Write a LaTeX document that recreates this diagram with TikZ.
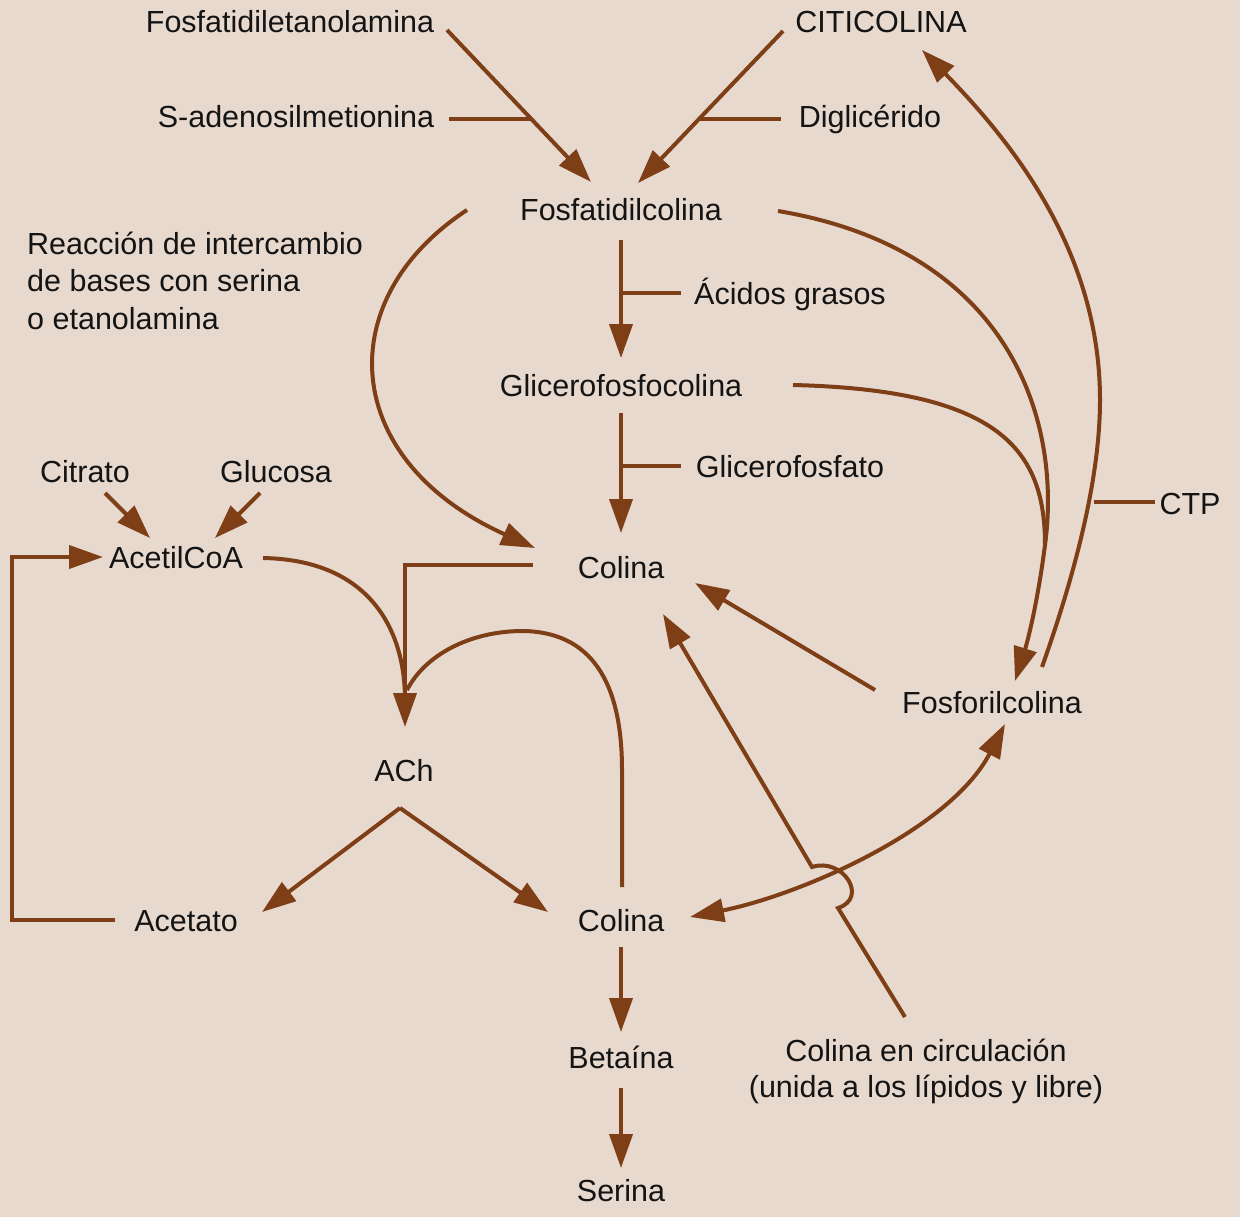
\documentclass[tikz,border=0pt]{standalone}
\usepackage{fontspec}
\setmainfont{Liberation Sans}
\usetikzlibrary{arrows.meta}
\definecolor{bg}{HTML}{E8D9CE}
\definecolor{ln}{HTML}{7E3E16}
\begin{document}
\begin{tikzpicture}[x=1pt,y=-1pt,
  lbl/.style={font=\fontsize{30.5}{37.5}\selectfont, inner sep=0pt, anchor=base, text=black!92},
  cn/.style={draw=ln, line width=4pt, line join=miter},
  tipp/.tip={Triangle[length=34pt,width=23pt]},
  ar/.style={cn, -tipp},
  dar/.style={cn, tipp-tipp}]
\fill[bg] (0,0) rectangle (1240,1217);
\useasboundingbox (0,0) rectangle (1240,1217);

% nodes
\node[lbl] (fe)   at (290,33)  {Fosfatidiletanolamina};
\node[lbl] (sam)  at (296,128) {S-adenosilmetionina};
\node[lbl] (cit)  at (881,33)  {CITICOLINA};
\node[lbl] (dig)  at (870,128) {Diglicérido};
\node[lbl] (fc)   at (621,221) {Fosfatidilcolina};
\node[lbl] (ag)   at (790,304) {Ácidos grasos};
\node[lbl] (gfc)  at (621,396) {Glicerofosfocolina};
\node[lbl] (gf)   at (790,477) {Glicerofosfato};
\node[lbl] (col1) at (621,578) {Colina};
\node[lbl, anchor=base west, align=left] (reac) at (27,329) {Reacción de intercambio\\de bases con serina\\o etanolamina};
\node[lbl] (fosf) at (992,713) {Fosforilcolina};
\node[lbl] (ctp)  at (1190,514) {CTP};
\node[lbl] (acoa) at (176,568) {AcetilCoA};
\node[lbl] (citr) at (85,482)  {Citrato};
\node[lbl] (gluc) at (276,482) {Glucosa};
\node[lbl] (ach)  at (404,781) {ACh};
\node[lbl] (acet) at (186,931) {Acetato};
\node[lbl] (col2) at (621,931) {Colina};
\node[lbl] (bet)  at (621,1068) {Betaína};
\node[lbl] (ser)  at (621,1201) {Serina};
\node[lbl, align=center, font=\fontsize{30.5}{36}\selectfont] (circ) at (926,1097) {Colina en circulación\\(unida a los lípidos y libre)};

% coordinates
\coordinate (feS) at (447,30);   \coordinate (feT) at (591,182);
\coordinate (samS) at (449,119); \coordinate (samJ) at (531,119);
\coordinate (citS) at (783,31);  \coordinate (citT) at (638,183);
\coordinate (digS) at (781,119); \coordinate (digJ) at (699,119);
\coordinate (fcB) at (621,240);  \coordinate (gfcT) at (621,358);
\coordinate (agJ) at (621,293);  \coordinate (agS) at (681,293);
\coordinate (gfcB) at (621,413); \coordinate (col1T) at (621,533);
\coordinate (gfJ) at (621,466);  \coordinate (gfS) at (681,466);
\coordinate (fcL) at (467,210);  \coordinate (col1L) at (535,548);
\coordinate (fcR) at (778,211);  \coordinate (merge) at (1045,545);
\coordinate (fosfT) at (1015,681);
\coordinate (gfcR) at (793,385);
\coordinate (fosfS) at (1042,667); \coordinate (citR) at (922,50);
\coordinate (ctpJ) at (1094,502); \coordinate (ctpS) at (1155,502);
\coordinate (fosfL) at (875,690); \coordinate (col1R) at (695,583);
\coordinate (circS) at (905,1017); \coordinate (hopA) at (838,908);
\coordinate (hopB) at (812,867); \coordinate (col1D) at (663,614);
\coordinate (col2R) at (690,917); \coordinate (fosfD) at (1005,724);
\coordinate (col1W) at (533,565); \coordinate (achT) at (405,727);
\coordinate (acoaR) at (263,558); \coordinate (achJ) at (405,700);
\coordinate (col2U) at (622,887); \coordinate (achJ2) at (407,690);
\coordinate (apex) at (400,808);
\coordinate (acetT) at (262,912); \coordinate (col2T) at (548,912);
\coordinate (acetL) at (115,920); \coordinate (acoaT) at (103,557);
\coordinate (citrS) at (105,493); \coordinate (citrT) at (150,538);
\coordinate (glucS) at (260,493); \coordinate (glucT) at (215,538);
\coordinate (col2B) at (621,947); \coordinate (betT) at (621,1032);
\coordinate (betB) at (621,1088); \coordinate (serT) at (621,1168);

% connectors
\draw[ar] (feS) -- (feT);
\draw[cn] (samS) -- (samJ);
\draw[ar] (citS) -- (citT);
\draw[cn] (digS) -- (digJ);
\draw[ar] (fcB) -- (gfcT);
\draw[cn] (agJ) -- (agS);
\draw[ar] (gfcB) -- (col1T);
\draw[cn] (gfJ) -- (gfS);
\draw[ar] (fcL) .. controls (330,300) and (340,460) .. (col1L);
\draw[ar] (fcR) .. controls (1010,250) and (1062,420) .. (merge)
          .. controls (1038,600) and (1028,640) .. (fosfT);
\draw[cn] (gfcR) .. controls (1000,390) and (1045,450) .. (merge);
\draw[ar] (fosfS) .. controls (1080,560) and (1100,470) .. (1100,400)
          .. controls (1100,250) and (1010,140) .. (citR);
\draw[cn] (ctpJ) -- (ctpS);
\draw[ar] (fosfL) -- (col1R);
\draw[ar] (circS) -- (hopA) .. controls (869,898) and (843,857) .. (hopB) -- (col1D);
\draw[dar] (col2R) .. controls (800,895) and (950,830) .. (fosfD);
\draw[ar] (col1W) -- (col1W -| achT) -- (achT);
\draw[cn] (acoaR) .. controls (370,560) and (405,630) .. (achJ);
\draw[cn] (col2U) -- (622,770) .. controls (622,680) and (590,632) .. (523,631)
          .. controls (470,631) and (425,655) .. (achJ2);
\draw[ar] (apex) -- (acetT);
\draw[ar] (apex) -- (col2T);
\draw[ar] (acetL) -- (12,920) -- (12,557) -- (acoaT);
\draw[ar] (citrS) -- (citrT);
\draw[ar] (glucS) -- (glucT);
\draw[ar] (col2B) -- (betT);
\draw[ar] (betB) -- (serT);
\end{tikzpicture}
\end{document}
